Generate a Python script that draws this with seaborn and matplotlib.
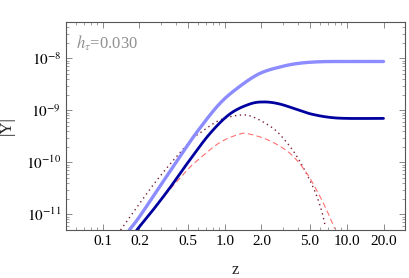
import numpy as np
import pandas as pd
import matplotlib
matplotlib.use("Agg")
import matplotlib.pyplot as plt
import matplotlib.ticker as mticker
import seaborn as sns

# data
z_light = [0.165, 0.2, 0.3, 0.43, 0.6, 0.91, 1.33, 1.93, 2.82, 4.0, 6.0, 10.0, 20.0]
y_light = [5e-12, 9e-12, 3.7e-11, 1.3e-10, 4.0e-10, 1.35e-9, 2.9e-9, 5.1e-9, 6.8e-9, 8.0e-9, 8.6e-9, 8.7e-9, 8.7e-9]

z_dark = [0.19, 0.25, 0.354, 0.5, 0.75, 1.1, 1.6, 2.1, 2.8, 4.0, 5.0, 7.0, 10.0, 20.0]
y_dark = [5e-12, 1.1e-11, 3.2e-11, 1.0e-10, 3.5e-10, 8.5e-10, 1.32e-9, 1.45e-9, 1.33e-9, 1.02e-9, 8.6e-10, 7.4e-10, 7.0e-10, 7.0e-10]

z_dot = [0.14, 0.277, 0.517, 0.62, 0.91, 1.33, 1.7, 2.43, 2.98, 3.75, 4.53, 5.47, 6.2, 6.7]
y_dot = [5e-12, 4.5e-11, 2.5e-10, 3.6e-10, 6.5e-10, 8.1e-10, 7.5e-10, 4.7e-10, 3.0e-10, 1.5e-10, 7e-11, 2.8e-11, 1.2e-11, 5.6e-12]

z_dash = [0.19, 0.3, 0.49, 0.6, 0.91, 1.33, 1.6, 2.34, 3.41, 4.53, 5.67, 6.85, 7.96]
y_dash = [5e-12, 1.9e-11, 7e-11, 1.1e-10, 2.4e-10, 3.5e-10, 3.5e-10, 2.6e-10, 1.5e-10, 7e-11, 2.9e-11, 1.2e-11, 5.3e-12]

xticks = [0.1, 0.2, 0.5, 1.0, 2.0, 5.0, 10.0, 20.0]
xticklabels = ["0.1", "0.2", "0.5", "1.0", "2.0", "5.0", "10.0", "20.0"]
yticks = [1e-11, 1e-10, 1e-9, 1e-8]
yticklabels = [r"$10^{-11}$", r"$10^{-10}$", r"$10^{-9}$", r"$10^{-8}$"]

sns.set_style("ticks")
plt.rcParams['font.family'] = ['Liberation Serif', 'DejaVu Serif']
plt.rcParams['mathtext.fontset'] = 'stix'


def smooth(zs, ys):
    # Catmull-Rom spline through the read points, in log-log space
    pts = np.column_stack([np.log10(zs), np.log10(ys)])
    P = np.vstack([pts[0] - (pts[1] - pts[0]), pts, pts[-1] + (pts[-1] - pts[-2])])
    out = []
    for i in range(1, len(P) - 2):
        p0, p1, p2, p3 = P[i - 1], P[i], P[i + 1], P[i + 2]
        for s in np.linspace(0, 1, 40, endpoint=False):
            q = 0.5 * ((2 * p1) + (-p0 + p2) * s + (2 * p0 - 5 * p1 + 4 * p2 - p3) * s ** 2
                       + (-p0 + 3 * p1 - 3 * p2 + p3) * s ** 3)
            out.append(q)
    out.append(pts[-1])
    out = np.array(out)
    return pd.DataFrame({"z": 10 ** out[:, 0], "Y": 10 ** out[:, 1]})


fig = plt.figure(figsize=(4.09, 2.78), dpi=100)
ax = fig.add_axes([66 / 409, 1 - 230 / 278, (405 - 66) / 409, (230 - 22) / 278])

sns.lineplot(data=smooth(z_dot, y_dot), x="z", y="Y", ax=ax, color="#7a2035", lw=1.0,
             linestyle=(0, (1, 2.5)), sort=False)
sns.lineplot(data=smooth(z_dash, y_dash), x="z", y="Y", ax=ax, color="#ff7070", lw=0.8,
             linestyle=(0, (5, 3)), sort=False)
sns.lineplot(data=smooth(z_light, y_light), x="z", y="Y", ax=ax, color="#8c8cff", lw=2.4, sort=False)
sns.lineplot(data=smooth(z_dark, y_dark), x="z", y="Y", ax=ax, color="#0000a0", lw=2.0, sort=False)

ax.set_xscale("log")
ax.set_yscale("log")
ax.set_xlim(0.05, 30)
ax.set_ylim(5e-12, 5e-8)

ax.set_xticks(xticks)
ax.set_xticklabels(xticklabels)
ax.xaxis.set_minor_locator(mticker.LogLocator(base=10, subs=np.arange(2, 10)))
ax.xaxis.set_minor_formatter(mticker.NullFormatter())
ax.set_yticks(yticks)
ax.set_yticklabels(yticklabels)
ax.yaxis.set_minor_locator(mticker.LogLocator(base=10, subs=np.arange(2, 10)))
ax.yaxis.set_minor_formatter(mticker.NullFormatter())

for s in ax.spines.values():
    s.set_color("#555555")
    s.set_linewidth(0.8)
ax.tick_params(which="both", direction="in", top=True, right=True, colors="#777777",
               labelcolor="black", labelsize=11)
ax.tick_params(which="major", length=4, width=0.6)
ax.tick_params(which="minor", length=2, width=0.5)

ax.set_xlabel("z", fontsize=12, labelpad=10)
ax.set_ylabel("|Y|", fontsize=12, labelpad=8)

ax.text(0.03, 0.87, r"$h_\tau$=0.030", transform=ax.transAxes, color="#909090", fontsize=12)

fig.savefig("out.png", dpi=100)
